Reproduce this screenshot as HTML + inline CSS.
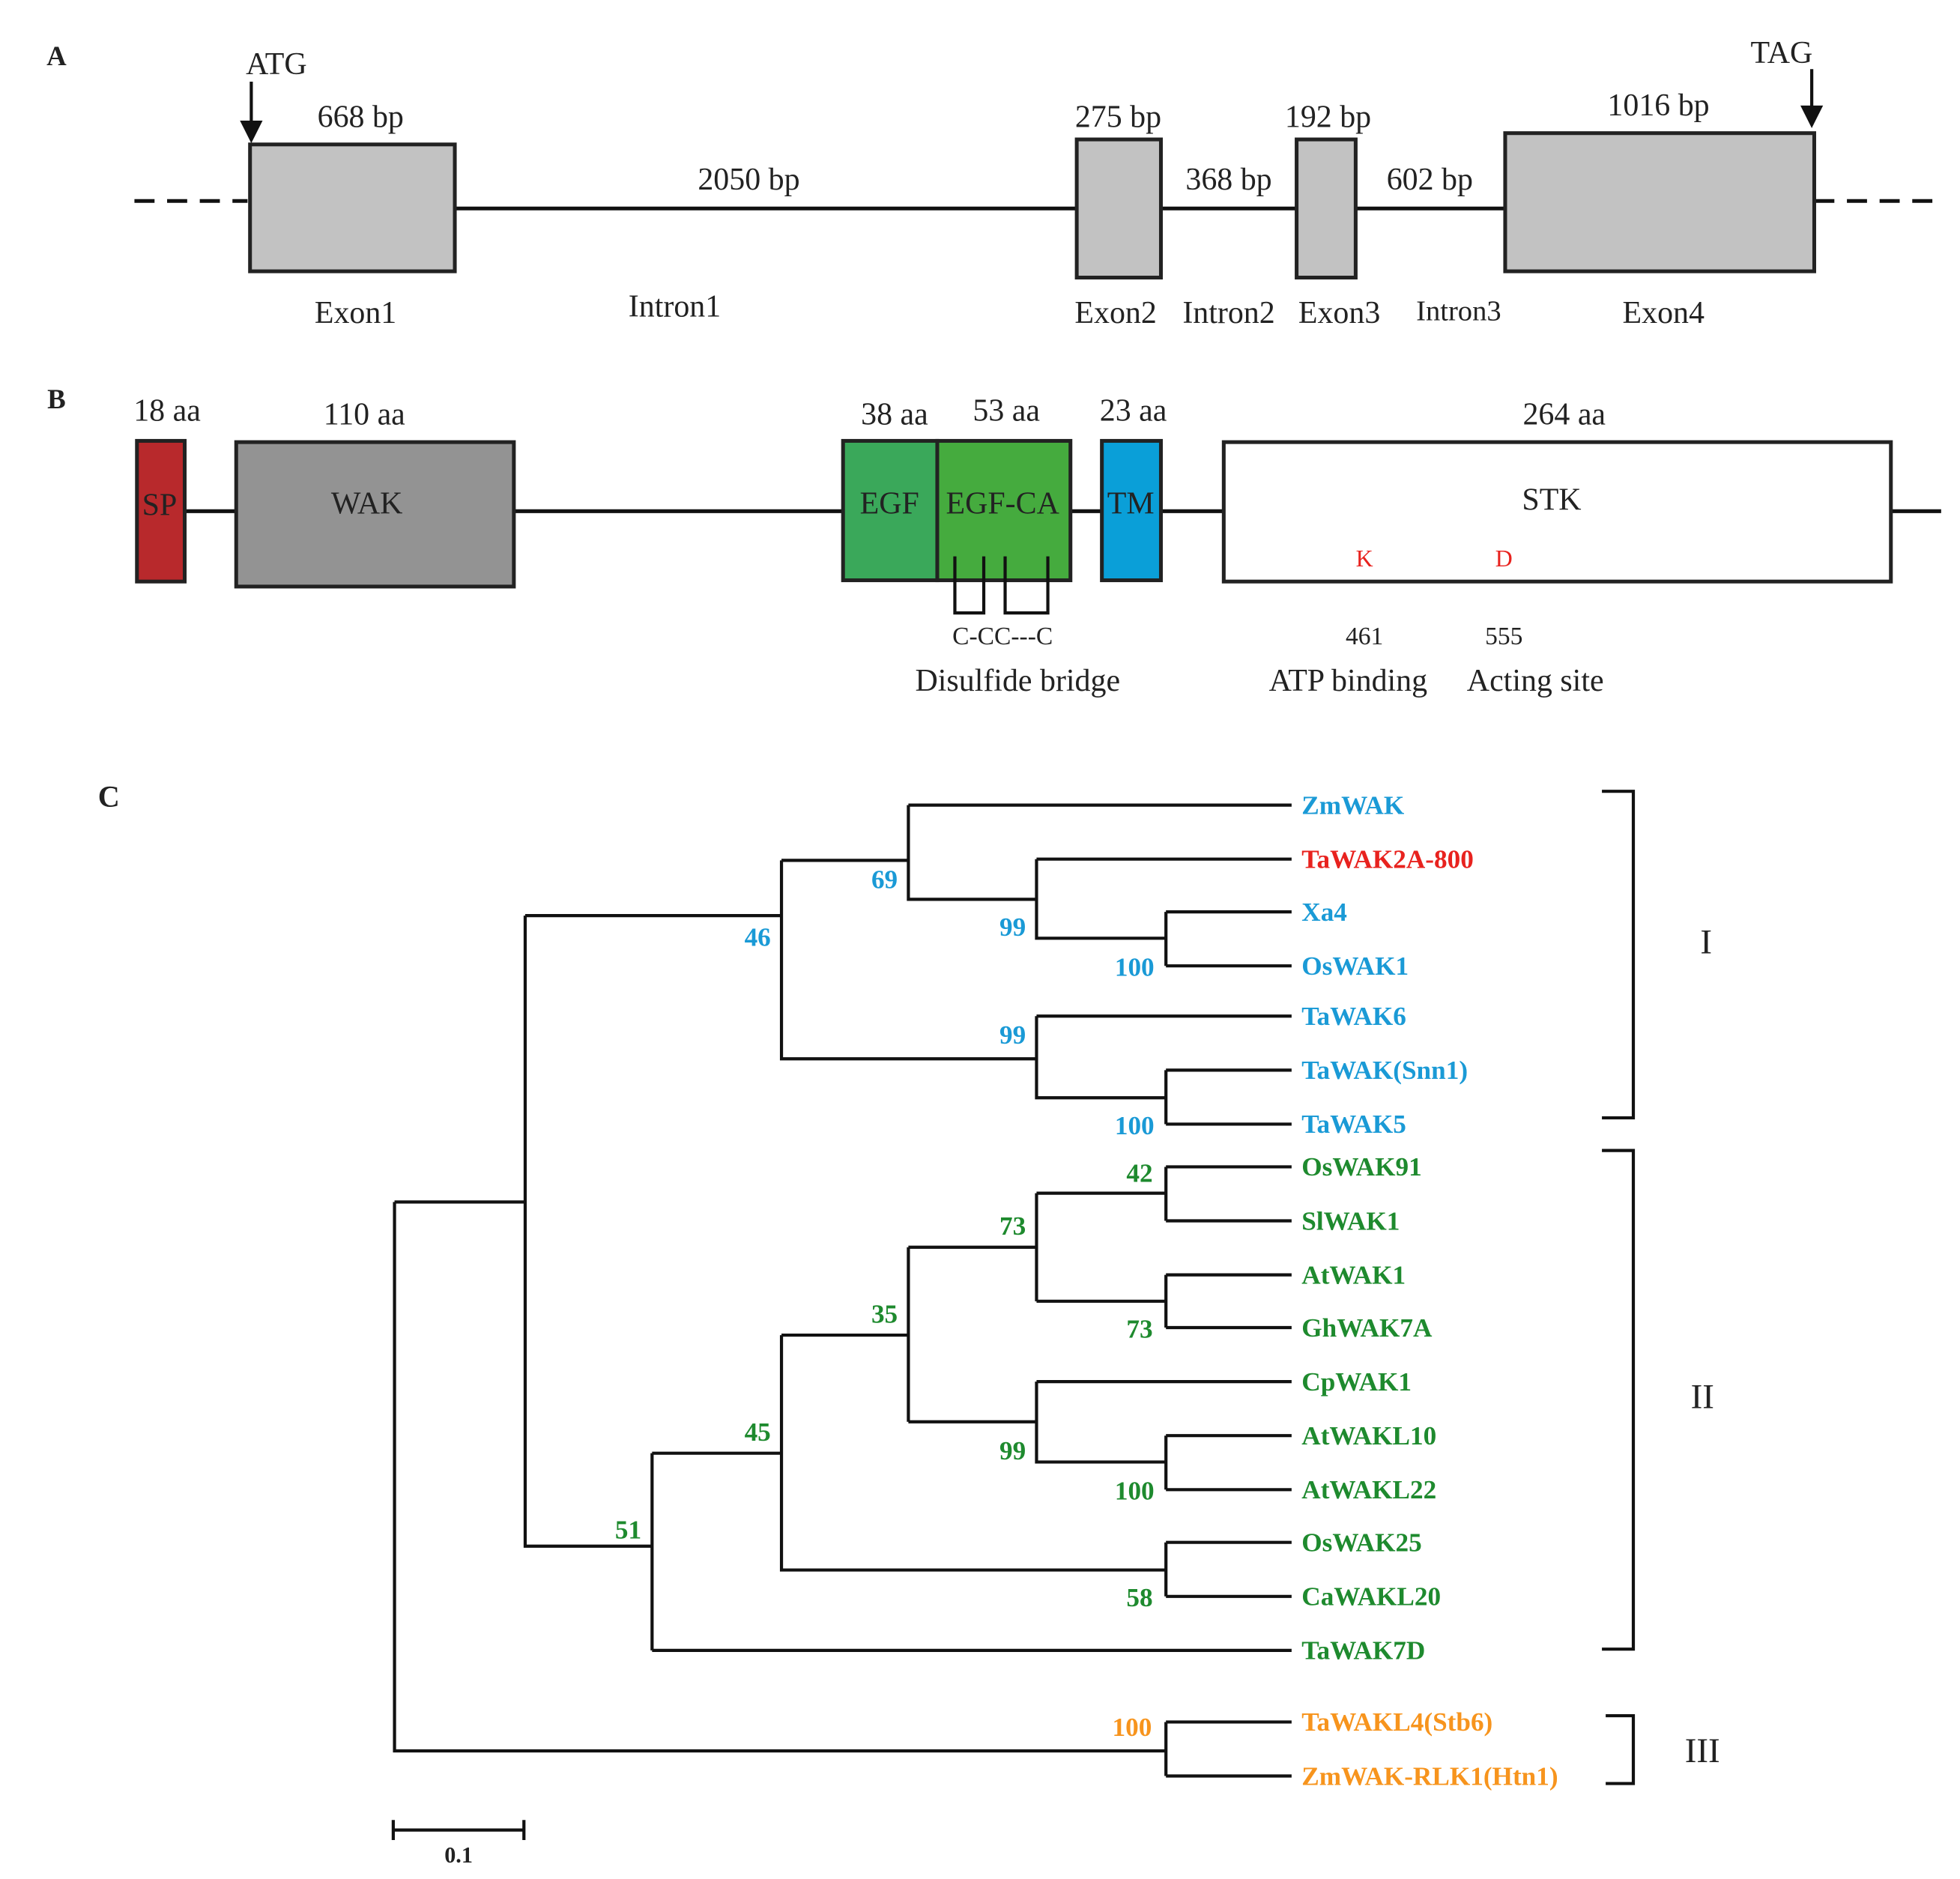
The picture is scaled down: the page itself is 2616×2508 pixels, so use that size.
<!DOCTYPE html>
<html><head><meta charset="utf-8"><style>
html,body{margin:0;padding:0;background:#fff;}
svg{display:block;}
text{font-family:"Liberation Serif",serif;}
</style></head><body>
<svg width="2616" height="2508" viewBox="0 0 1560 1496" preserveAspectRatio="none" xmlns="http://www.w3.org/2000/svg">
<rect width="1560" height="1496" fill="#fff"/>
<!-- Panel A -->
<g font-size="25" fill="#222" text-anchor="middle">
<text x="45" y="52" font-weight="bold" font-size="22">A</text>
<line x1="107" y1="160" x2="197" y2="160" stroke="#111" stroke-width="3" stroke-dasharray="16,10"/>
<line x1="1444" y1="160" x2="1545" y2="160" stroke="#111" stroke-width="3" stroke-dasharray="16,10"/>
<line x1="362" y1="166" x2="1198" y2="166" stroke="#111" stroke-width="3"/>
<rect x="199" y="115" width="163" height="101" fill="#c2c2c2" stroke="#222" stroke-width="3"/>
<rect x="857" y="111" width="67" height="110" fill="#c2c2c2" stroke="#222" stroke-width="3"/>
<rect x="1032" y="111" width="47" height="110" fill="#c2c2c2" stroke="#222" stroke-width="3"/>
<rect x="1198" y="106" width="246" height="110" fill="#c2c2c2" stroke="#222" stroke-width="3"/>
<line x1="200" y1="65" x2="200" y2="100" stroke="#111" stroke-width="2.5"/>
<polygon points="191,96 209,96 200,114" fill="#111"/>
<line x1="1442" y1="55" x2="1442" y2="88" stroke="#111" stroke-width="2.5"/>
<polygon points="1433,84 1451,84 1442,102" fill="#111"/>
<text x="220" y="59">ATG</text>
<text x="1418" y="50">TAG</text>
<text x="287" y="101">668 bp</text>
<text x="596" y="151">2050 bp</text>
<text x="890" y="101">275 bp</text>
<text x="978" y="151">368 bp</text>
<text x="1057" y="101">192 bp</text>
<text x="1138" y="151">602 bp</text>
<text x="1320" y="92">1016  bp</text>
<text x="283" y="257">Exon1</text>
<text x="537" y="252">Intron1</text>
<text x="888" y="257">Exon2</text>
<text x="978" y="257">Intron2</text>
<text x="1066" y="257">Exon3</text>
<text x="1161" y="255" font-size="23">Intron3</text>
<text x="1324" y="257">Exon4</text>
</g>
<!-- Panel B -->
<g font-size="25" fill="#222" text-anchor="middle">
<text x="45" y="325" font-weight="bold" font-size="22">B</text>
<line x1="147" y1="407" x2="1545" y2="407" stroke="#111" stroke-width="3"/>
<rect x="109" y="351" width="38" height="112" fill="#b8292c" stroke="#222" stroke-width="3"/>
<rect x="188" y="352" width="221" height="115" fill="#939393" stroke="#222" stroke-width="3"/>
<rect x="671" y="351" width="75" height="111" fill="#3aa85a" stroke="#222" stroke-width="3"/>
<rect x="746" y="351" width="106" height="111" fill="#45ab3e" stroke="#222" stroke-width="3"/>
<rect x="877" y="351" width="47" height="111" fill="#0a9fd8" stroke="#222" stroke-width="3"/>
<rect x="974" y="352" width="531" height="111" fill="#fff" stroke="#222" stroke-width="3"/>
<text x="133" y="335">18 aa</text>
<text x="290" y="338">110 aa</text>
<text x="712" y="338">38 aa</text>
<text x="801" y="335">53 aa</text>
<text x="902" y="335">23 aa</text>
<text x="1245" y="338">264 aa</text>
<text x="127" y="410">SP</text>
<text x="292" y="409">WAK</text>
<text x="708" y="409">EGF</text>
<text x="798" y="409">EGF-CA</text>
<text x="900" y="409">TM</text>
<text x="1235" y="406">STK</text>
<text x="1086" y="451" fill="#e8221e" font-size="19">K</text>
<text x="1197" y="451" fill="#e8221e" font-size="19">D</text>
<polyline points="760,443 760,488 783,488 783,443" fill="none" stroke="#111" stroke-width="2.5"/>
<polyline points="800,443 800,488 834,488 834,443" fill="none" stroke="#111" stroke-width="2.5"/>
<text x="798" y="513" font-size="20">C-CC---C</text>
<text x="810" y="550">Disulfide bridge</text>
<text x="1086" y="513" font-size="20">461</text>
<text x="1197" y="513" font-size="20">555</text>
<text x="1073" y="550">ATP binding</text>
<text x="1222" y="550">Acting site</text>
</g>
<!-- Panel C -->
<text x="78" y="642" font-weight="bold" font-size="24" fill="#222">C</text>
<g stroke="#111" stroke-width="2.5" fill="none">
<!-- leaves -->
<path d="M723 641H1028 M825 684H1028 M928 726H1028 M928 769H1028 M825 809H1028 M928 852H1028 M928 895H1028
M928 929H1028 M928 972H1028 M928 1015H1028 M928 1057H1028 M825 1100H1028 M928 1143H1028 M928 1186H1028
M928 1228H1028 M928 1271H1028 M519 1314H1028 M928 1371H1028 M928 1414H1028"/>
<path d="M928 726V769 M825 684V747H928 M723 641V716H825 M928 852V895 M825 809V874H928 M622 685V843H825 M622 685H723"/>
<path d="M928 929V972 M928 1015V1057 M825 950V1036 M825 950H928 M825 1036H928 M928 1143V1186 M825 1100V1164H928
M723 993V1132 M723 993H825 M723 1132H825 M928 1228V1271 M622 1063V1250H928 M622 1063H723 M519 1157V1314 M519 1157H622"/>
<path d="M418 729V1231H519 M418 729H622 M314 957V1394H928 M314 957H418 M928 1371V1414"/>
<!-- brackets -->
<path d="M1275 630H1300V890H1275 M1275 916H1300V1313H1275 M1278 1366H1300V1420H1278"/>
<path d="M313 1457H417 M313 1449V1465 M417 1449V1465"/>
</g>
<g font-size="21" font-weight="bold" text-anchor="middle">
<g fill="#1a9ad6"><text x="704" y="707">69</text><text x="806" y="745">99</text><text x="903" y="777">100</text><text x="603" y="753">46</text><text x="806" y="831">99</text><text x="903" y="903">100</text></g>
<g fill="#1e8a2e"><text x="907" y="941">42</text><text x="806" y="983">73</text><text x="907" y="1065">73</text><text x="704" y="1053">35</text><text x="806" y="1162">99</text><text x="903" y="1194">100</text><text x="603" y="1147">45</text><text x="907" y="1279">58</text><text x="500" y="1225">51</text></g>
<text x="901" y="1382" fill="#f7941d">100</text>
<text x="365" y="1483" fill="#222" font-size="18">0.1</text>
</g>
<g font-size="21" font-weight="bold">
<g fill="#1a9ad6"><text x="1036" y="648">ZmWAK</text><text x="1036" y="733">Xa4</text><text x="1036" y="776">OsWAK1</text><text x="1036" y="816">TaWAK6</text><text x="1036" y="859">TaWAK(Snn1)</text><text x="1036" y="902">TaWAK5</text></g>
<text x="1036" y="691" fill="#e8221e">TaWAK2A-800</text>
<g fill="#1e8a2e"><text x="1036" y="936">OsWAK91</text><text x="1036" y="979">SlWAK1</text><text x="1036" y="1022">AtWAK1</text><text x="1036" y="1064">GhWAK7A</text><text x="1036" y="1107">CpWAK1</text><text x="1036" y="1150">AtWAKL10</text><text x="1036" y="1193">AtWAKL22</text><text x="1036" y="1235">OsWAK25</text><text x="1036" y="1278">CaWAKL20</text><text x="1036" y="1321">TaWAK7D</text></g>
<g fill="#f7941d"><text x="1036" y="1378">TaWAKL4(Stb6)</text><text x="1036" y="1421">ZmWAK-RLK1(Htn1)</text></g>
</g>
<g font-size="28" fill="#222" text-anchor="middle"><text x="1358" y="759">I</text><text x="1355" y="1121">II</text><text x="1355" y="1403">III</text></g>
</svg>
</body></html>
